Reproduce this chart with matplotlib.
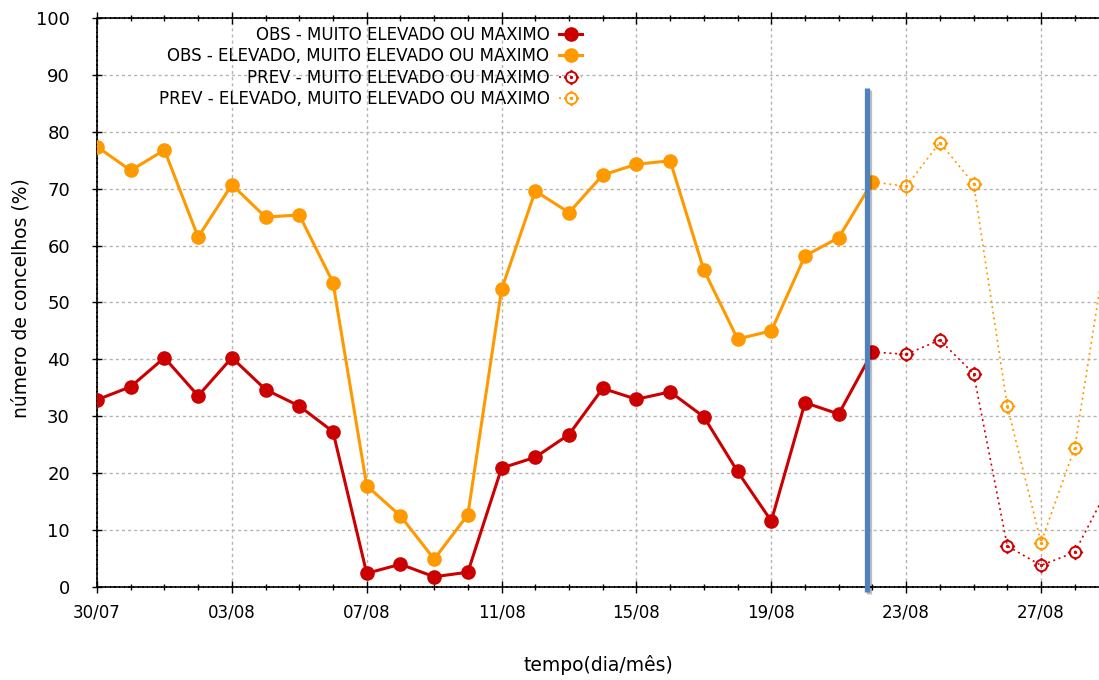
import numpy as np
import matplotlib
matplotlib.use("Agg")
import matplotlib.pyplot as plt
from matplotlib.path import Path
from matplotlib.ticker import MultipleLocator, FixedLocator
import matplotlib.patheffects as pe

# ---------------- data ----------------
obs_days = list(range(0, 24))          # 30/07 .. 22/08 (day index from 30/07)
pred_days = list(range(24, 31))        # 23/08 .. 29/08
xtick_days = [0, 4, 8, 12, 16, 20, 24, 28]
xtick_labels = ["30/07", "03/08", "07/08", "11/08", "15/08", "19/08", "23/08", "27/08"]
ytick_values = [0, 10, 20, 30, 40, 50, 60, 70, 80, 90, 100]

red_obs = [32.9, 35.2, 40.3, 33.6, 40.3, 34.7, 31.8, 27.3, 2.4, 4.0, 1.8, 2.6,
           20.9, 22.8, 26.8, 34.9, 33.0, 34.3, 29.9, 20.3, 11.6, 32.4, 30.4, 41.3]
orange_obs = [77.4, 73.2, 76.8, 61.5, 70.7, 65.0, 65.4, 53.5, 17.8, 12.5, 4.9, 12.7,
              52.3, 69.6, 65.8, 72.4, 74.3, 74.9, 55.7, 43.6, 45.0, 58.2, 61.4, 71.2]
red_pred = [40.9, 43.4, 37.5, 7.2, 3.8, 6.1, 17.5]
orange_pred = [70.4, 78.1, 70.9, 31.8, 7.8, 24.5, 62.0]

labels = ["OBS - MUITO ELEVADO OU MAXIMO",
          "OBS - ELEVADO, MUITO ELEVADO OU MAXIMO",
          "PREV - MUITO ELEVADO OU MAXIMO",
          "PREV - ELEVADO, MUITO ELEVADO OU MAXIMO"]

RED = "#cc0000"
ORANGE = "#ff9900"
BLUE = "#4f81bd"

# custom open marker: circle with small outer ticks and a centre dot
circ = Path.unit_circle()
dot = Path.circle((0, 0), 0.12)
ticks = Path([(0, 1.0), (0, 1.35), (0, -1.0), (0, -1.35),
              (1.0, 0), (1.35, 0), (-1.0, 0), (-1.35, 0)],
             [Path.MOVETO, Path.LINETO] * 4)
pred_marker = Path.make_compound_path(circ, ticks, dot)

plt.rcParams["font.family"] = ["DejaVu Sans"]

fig = plt.figure(figsize=(10.99, 6.80), dpi=100)
ax = fig.add_axes([97 / 1099, 93 / 680, 1002 / 1099, 569 / 680])

# observed
ax.plot(obs_days, red_obs, color=RED, lw=2.2, marker="o", ms=9.5, mec=RED, mfc=RED,
        label=labels[0], zorder=5)
ax.plot(obs_days, orange_obs, color=ORANGE, lw=2.2, marker="o", ms=9.5, mec=ORANGE,
        mfc=ORANGE, label=labels[1], zorder=5)

# predicted (connected to last observed point)
ax.plot([obs_days[-1]] + pred_days, [red_obs[-1]] + red_pred, color=RED, lw=1.2,
        ls=(0, (1.2, 2.2)), marker=pred_marker, ms=11, mew=1.4, mfc="none", mec=RED,
        markevery=list(range(1, len(pred_days) + 1)), label=labels[2], zorder=4)
ax.plot([obs_days[-1]] + pred_days, [orange_obs[-1]] + orange_pred, color=ORANGE, lw=1.2,
        ls=(0, (1.2, 2.2)), marker=pred_marker, ms=11, mew=1.4, mfc="none", mec=ORANGE,
        markevery=list(range(1, len(pred_days) + 1)), label=labels[3], zorder=4)

ax.set_xlim(0, 29.72)
ax.set_ylim(0, 100)

ax.xaxis.set_major_locator(FixedLocator(xtick_days))
ax.set_xticklabels(xtick_labels)
ax.xaxis.set_minor_locator(MultipleLocator(1))
ax.set_yticks(ytick_values)

ax.tick_params(axis="x", which="major", direction="inout", length=8, width=1,
               labelsize=12, pad=8, top=True)
ax.tick_params(axis="x", which="minor", direction="inout", length=5, width=1, top=True)
ax.tick_params(axis="y", which="major", direction="inout", length=7, width=1,
               labelsize=13, pad=16)

ax.grid(True, which="major", color="#b4b4b4", lw=1.0, ls=(0, (2.2, 2.2)))
ax.set_axisbelow(True)

for s in ["left", "bottom", "top"]:
    ax.spines[s].set_color("black")
    ax.spines[s].set_linewidth(1.2)
    ax.spines[s].set_linestyle((0, (2, 0.8)))
ax.spines["right"].set_visible(False)

ax.set_ylabel("número de concelhos (%)", fontsize=13.5)
ax.yaxis.set_label_coords((31 - 97) / 1002, 0.508)
ax.set_xlabel("tempo(dia/mês)", fontsize=13.5, labelpad=24)

leg = ax.legend(loc="upper right", bbox_to_anchor=(0.484, 0.986), frameon=False,
                markerfirst=False, fontsize=12, handlelength=1.35, handletextpad=0.6,
                labelspacing=0.2, borderpad=0, borderaxespad=0)

# vertical separator annotation (observed / forecast)
ax.plot([22.84, 22.84], [-0.9, 87.7], color=BLUE, lw=3.8, clip_on=False, zorder=6,
        solid_capstyle="butt",
        path_effects=[pe.SimpleLineShadow(offset=(1.5, -1.5), alpha=0.25), pe.Normal()])

fig.savefig("out.png", dpi=100)
